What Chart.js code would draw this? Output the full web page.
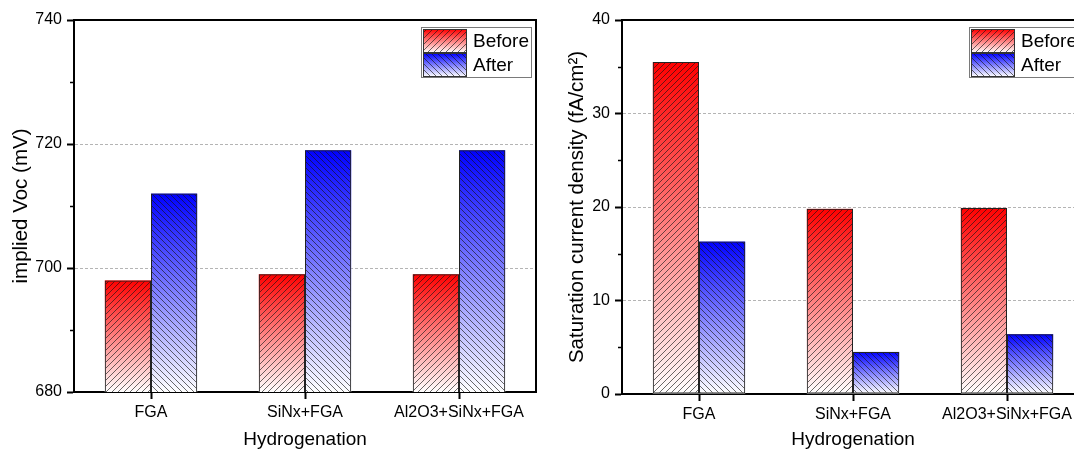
<!DOCTYPE html>
<html>
<head>
<meta charset="utf-8">
<script src="https://cdn.jsdelivr.net/npm/chart.js@4/dist/chart.umd.min.js"></script>
<style>
  html, body { margin: 0; padding: 0; background: #fff; overflow: hidden; width: 1074px; height: 450px; }
  canvas { position: absolute; top: 0; }
  #c1 { left: 0; }
  #c2 { left: 548px; }
</style>
</head>
<body>
<canvas id="c1" width="560" height="450"></canvas>
<canvas id="c2" width="560" height="450"></canvas>
<script>
// ---- data ----
const categories = ['FGA', 'SiNx+FGA', 'Al2O3+SiNx+FGA'];
const seriesLabels = ['Before', 'After'];
const vocBefore = [698, 699, 699];
const vocAfter = [712, 719, 719];
const j0Before = [35.5, 19.8, 19.9];
const j0After = [16.3, 4.5, 6.4];
const vocTicks = [680, 700, 720, 740];
const vocMinor = [690, 710, 730];
const j0Ticks = [0, 10, 20, 30, 40];
const j0Minor = [5, 15, 25, 35];

// ---- styling helpers ----
const FONT = '"Liberation Sans", Arial, Helvetica, sans-serif';
const topColors = ['#ff0000', '#0000ff'];

function makeHatch(dir) {
  const s = 6;
  const c = document.createElement('canvas');
  c.width = s; c.height = s;
  const g = c.getContext('2d');
  g.strokeStyle = 'rgba(20,20,20,0.8)';
  g.lineWidth = 0.8;
  g.beginPath();
  if (dir === '/') {
    g.moveTo(0, s); g.lineTo(s, 0);
    g.moveTo(-1, 1); g.lineTo(1, -1);
    g.moveTo(s - 1, s + 1); g.lineTo(s + 1, s - 1);
  } else {
    g.moveTo(0, 0); g.lineTo(s, s);
    g.moveTo(-1, s - 1); g.lineTo(1, s + 1);
    g.moveTo(s - 1, -1); g.lineTo(s + 1, 1);
  }
  g.stroke();
  return g.createPattern(c, 'repeat');
}
const hatches = [makeHatch('/'), makeHatch('\\')];

const gradientPlugin = {
  id: 'barGradient',
  beforeDatasetsDraw(chart) {
    const ctx = chart.ctx;
    const a = chart.chartArea;
    ctx.save();
    ctx.beginPath();
    ctx.rect(a.left, a.top, a.right - a.left, a.bottom - a.top);
    ctx.clip();
    chart.data.datasets.forEach((ds, i) => {
      const meta = chart.getDatasetMeta(i);
      meta.data.forEach(el => {
        const p = el.getProps(['x', 'y', 'base', 'width'], true);
        const bottom = Math.min(p.base, a.bottom);
        const g = ctx.createLinearGradient(0, p.y, 0, bottom);
        g.addColorStop(0, topColors[i]);
        g.addColorStop(1, '#ffffff');
        ctx.fillStyle = g;
        ctx.fillRect(p.x - p.width / 2, p.y, p.width, bottom - p.y);
      });
    });
    ctx.restore();
  }
};

const framePlugin = {
  id: 'frame',
  afterDraw(chart, args, opts) {
    const ctx = chart.ctx;
    const a = chart.chartArea;
    const ys = chart.scales.y;
    ctx.save();
    // minor ticks
    ctx.strokeStyle = '#000';
    ctx.lineWidth = 1.5;
    ctx.beginPath();
    (opts.minor || []).forEach(v => {
      const py = Math.round(ys.getPixelForValue(v)) + 0.5;
      ctx.moveTo(a.left - 4, py);
      ctx.lineTo(a.left, py);
    });
    ctx.stroke();
    // top and right frame lines
    ctx.lineWidth = 2;
    ctx.beginPath();
    ctx.moveTo(a.left - 1, a.top);
    ctx.lineTo(a.right, a.top);
    ctx.lineTo(a.right, a.bottom + 1);
    ctx.stroke();
    // legend
    const right = a.right - 5, left = right - 110, top = a.top + 7;
    ctx.fillStyle = '#fff';
    ctx.fillRect(left, top, 110, 50);
    ctx.strokeStyle = '#7a7a7a';
    ctx.lineWidth = 1;
    ctx.strokeRect(left + 0.5, top + 0.5, 110, 50);
    chart.data.datasets.forEach((ds, i) => {
      const sx = left + 2.5, sy = top + 2.5 + i * 24, sw = 43, sh = 23;
      const g = ctx.createLinearGradient(0, sy, 0, sy + sh);
      g.addColorStop(0, topColors[i]);
      g.addColorStop(1, '#ffffff');
      ctx.fillStyle = g;
      ctx.fillRect(sx, sy, sw, sh);
      ctx.fillStyle = hatches[i];
      ctx.fillRect(sx, sy, sw, sh);
      ctx.strokeStyle = '#333';
      ctx.strokeRect(sx, sy, sw, sh);
      ctx.fillStyle = '#000';
      ctx.font = '19px ' + FONT;
      ctx.textBaseline = 'middle';
      ctx.textAlign = 'left';
      ctx.fillText(ds.label, left + 52, sy + sh / 2 + 1);
    });
    ctx.restore();
  }
};

function makeChart(id, before, after, yMin, yMax, step, majorTicks, minorTicks, yTitle, yTitlePad, xHeight) {
  return new Chart(document.getElementById(id), {
    type: 'bar',
    data: {
      labels: categories,
      datasets: [
        { label: seriesLabels[0], data: before, backgroundColor: hatches[0], borderColor: '#222', borderWidth: 1, borderSkipped: false },
        { label: seriesLabels[1], data: after, backgroundColor: hatches[1], borderColor: '#222', borderWidth: 1, borderSkipped: false }
      ]
    },
    options: {
      responsive: false,
      animation: false,
      events: [],
      categoryPercentage: 0.6,
      barPercentage: 1.0,
      layout: { padding: { left: 0, right: 24, top: 20, bottom: 0 } },
      plugins: {
        legend: { display: false },
        tooltip: { enabled: false },
        frame: { minor: minorTicks }
      },
      scales: {
        x: {
          type: 'category',
          afterFit(s) { s.height = xHeight; },
          grid: { offset: false, drawOnChartArea: false, drawTicks: true, tickLength: 7, tickColor: '#000', tickWidth: 2 },
          border: { display: true, color: '#000', width: 2 },
          ticks: { color: '#000', padding: 4, font: { family: FONT, size: 16 } },
          title: { display: true, text: 'Hydrogenation', color: '#000', padding: { top: 0, bottom: 0 }, font: { family: FONT, size: 19, lineHeight: 1.05 } }
        },
        y: {
          min: yMin, max: yMax,
          afterFit(s) { s.width = 74; },
          afterBuildTicks(s) { s.ticks = majorTicks.map(v => ({ value: v })); },
          grid: {
            color: ctx => (ctx.tick && (ctx.tick.value === yMin || ctx.tick.value === yMax)) ? 'rgba(0,0,0,0)' : '#b4b4b4',
            lineWidth: 1, drawTicks: true, tickLength: 7, tickColor: '#000', tickWidth: 2, tickBorderDash: []
          },
          border: { display: true, color: '#000', width: 2, dash: [3, 2] },
          ticks: { stepSize: step, color: '#000', padding: 5, font: { family: FONT, size: 16 } },
          title: { display: true, text: yTitle, color: '#000', padding: { top: yTitlePad, bottom: 0 }, font: { family: FONT, size: 20.5, lineHeight: 1.2 } }
        }
      }
    },
    plugins: [gradientPlugin, framePlugin]
  });
}

makeChart('c1', vocBefore, vocAfter, 680, 740, 20, vocTicks, vocMinor, 'implied Voc (mV)', 9, 58);
makeChart('c2', j0Before, j0After, 0, 40, 10, j0Ticks, j0Minor, 'Saturation current density (fA/cm\u00B2)', 17, 56);
</script>
</body>
</html>
